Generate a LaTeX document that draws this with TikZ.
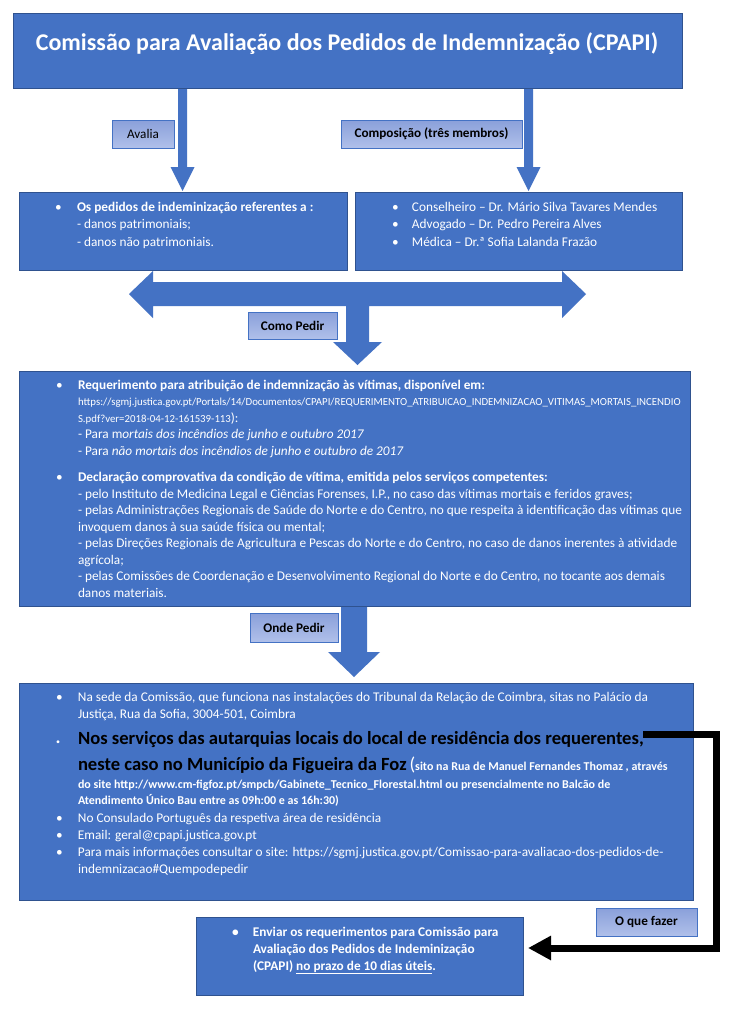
\documentclass[tikz,border=0pt]{standalone}
\usepackage{fontspec}
\setmainfont{Carlito}
\usetikzlibrary{arrows.meta,positioning,calc}
\definecolor{boxblue}{RGB}{68,114,196}
\definecolor{boxedge}{RGB}{47,82,143}
\definecolor{tagtop}{RGB}{138,160,218}
\definecolor{tagbottom}{RGB}{176,192,234}
\newcommand{\titlesize}{\fontsize{24}{28}\selectfont}
\newcommand{\tagsize}{\fontsize{13.2}{15}\selectfont}
\newcommand{\bodysize}{\fontsize{13.3}{16.5}\selectfont}
\newcommand{\urlsize}{\fontsize{10.8}{16.5}\selectfont}
\newcommand{\bigsize}{\fontsize{18.6}{17}\selectfont}
\newcommand{\smallsize}{\fontsize{12}{17}\selectfont}
\newcommand{\bul}{\textbullet}

\begin{document}
\begin{tikzpicture}[x=1pt,y=-1pt,
    every node/.style={inner sep=0pt,outer sep=0pt},
    bluebox/.style={draw=boxedge,fill=boxblue,line width=0.8pt,anchor=north west},
    tagbox/.style={draw=boxblue,line width=0.8pt,top color=tagtop,bottom color=tagbottom,
      anchor=north west,font=\tagsize\bfseries,text=black},
    itemtext/.style={anchor=base west,text=white},
    sendline/.style={line width=7pt,line join=miter,-{Triangle[length=23pt,width=23pt]}}]
  \fill[white] (0,0) rectangle (733,1009);
  \useasboundingbox (0,0) rectangle (733,1009);

  % --- Block arrows ---
  \foreach \ax in {182.5,528.5}
    \fill[boxblue] (\ax-4.5,88) -- (\ax+4.5,88) -- (\ax+4.5,167) -- (\ax+12,167)
      -- (\ax,191) -- (\ax-12,167) -- (\ax-4.5,167) -- cycle;
  \fill[boxblue] (129,294) -- (153,271) -- (153,282) -- (562,282) -- (562,271)
    -- (586,294) -- (562,318) -- (562,306) -- (369,306) -- (369,342) -- (382,342)
    -- (357.5,365) -- (333,342) -- (346,342) -- (346,306) -- (153,306) -- (153,318) -- cycle;
  \fill[boxblue] (341,600) -- (367,600) -- (367,652) -- (380,652) -- (354,677)
    -- (328,652) -- (341,652) -- cycle;

  % --- Boxes ---
  \node[bluebox,minimum width=669pt,minimum height=75pt] (cpapi) at (13,13) {};
  \node[font=\titlesize\bfseries,text=white] (cpapititle) at (347,44)
    {Comissão para Avaliação dos Pedidos de Indemnização (CPAPI)};
  \node[bluebox,minimum width=328pt,minimum height=78pt] (avaliabox) at (19,192) {};
  \node[bluebox,minimum width=327pt,minimum height=78pt] (membros) at (355,192) {};
  \node[bluebox,minimum width=671pt,minimum height=235pt] (requer) at (19,371) {};
  \node[bluebox,minimum width=674pt,minimum height=217pt] (onde) at (19,683) {};
  \node[bluebox,minimum width=327pt,minimum height=78pt] (send) at (196,917) {};

  % --- Labels ---
  \node[tagbox,minimum width=62pt,minimum height=28pt,font=\tagsize] (avalia) at (112,120) {Avalia};
  \node[tagbox,minimum width=181pt,minimum height=28pt] (composicao) at (341,120) {Composição (três membros)};
  \node[tagbox,minimum width=89pt,minimum height=27pt] (comopedir) at (248,312) {Como Pedir};
  \node[tagbox,minimum width=88pt,minimum height=29pt] (ondepedir) at (250,613) {Onde Pedir};
  \node[tagbox,minimum width=101pt,minimum height=28pt] (quefazer) at (596,908) {O que fazer};

  % --- Texts ---
  \node[itemtext,font=\fontsize{13.3}{17.5}\selectfont] (avaliatext) at (55,211) {%
    \begin{tabular}[t]{@{}p{22pt}@{}l@{}}
      \bul & \textbf{Os pedidos de indeminização referentes a :}\\
           & - danos patrimoniais;\\
           & - danos não patrimoniais.
    \end{tabular}};
  \node[itemtext,font=\fontsize{13.3}{17.5}\selectfont] (membrostext) at (392,211) {%
    \begin{tabular}[t]{@{}p{20pt}@{}l@{}}
      \bul & Conselheiro – Dr. Mário Silva Tavares Mendes\\
      \bul & Advogado – Dr. Pedro Pereira Alves\\
      \bul & Médica – Dr.ª Sofia Lalanda Frazão
    \end{tabular}};
  \node[itemtext,font=\bodysize] (requertext) at (56,389) {%
    \begin{tabular}[t]{@{}p{22pt}@{}l@{}}
      \bul & \textbf{Requerimento para atribuição de indemnização às vítimas, disponível em:}\\
           & {\urlsize https://sgmj.justica.gov.pt/Portals/14/Documentos/CPAPI/REQUERIMENTO\_ATRIBUICAO\_INDEMNIZACAO\_VITIMAS\_MORTAIS\_INCENDIO}\\
           & {\urlsize S.pdf?ver=2018-04-12-161539-113}):\\
           & - Para m\textit{ortais dos incêndios de junho e outubro 2017}\\
           & - Para \textit{não mortais dos incêndios de junho e outubro de 2017}\\[10pt]
      \bul & \textbf{Declaração comprovativa da condição de vítima, emitida pelos serviços competentes:}\\
           & - pelo Instituto de Medicina Legal e Ciências Forenses, I.P., no caso das vítimas mortais e feridos graves;\\
           & - pelas Administrações Regionais de Saúde do Norte e do Centro, no que respeita à identificação das vítimas que\\
           & invoquem danos à sua saúde física ou mental;\\
           & - pelas Direções Regionais de Agricultura e Pescas do Norte e do Centro, no caso de danos inerentes à atividade\\
           & agrícola;\\
           & - pelas Comissões de Coordenação e Desenvolvimento Regional do Norte e do Centro, no tocante aos demais\\
           & danos materiais.
    \end{tabular}};
  \node[itemtext,font=\fontsize{13.3}{17}\selectfont] (ondetext) at (56,701) {%
    \begin{tabular}[t]{@{}p{22pt}@{}l@{}}
      \bul & Na sede da Comissão, que funciona nas instalações do Tribunal da Relação de Coimbra, sitas no Palácio da\\
           & Justiça, Rua da Sofia, 3004-501, Coimbra\\[8pt]
      {\footnotesize\bul} & {\bigsize\bfseries\color{black}Nos serviços das autarquias locais do local de residência dos requerentes,}\\[8pt]
           & {\bigsize\bfseries\color{black}neste caso no Município da Figueira da Foz} {\bigsize(}{\smallsize\bfseries sito na Rua de Manuel Fernandes Thomaz , através}\\[1pt]
           & {\smallsize\bfseries do site http://www.cm-figfoz.pt/smpcb/Gabinete\_Tecnico\_Florestal.html ou presencialmente no Balcão de}\\[-1pt]
           & {\smallsize\bfseries Atendimento Único Bau entre as 09h:00 e as 16h:30)}\\[1pt]
      \bul & No Consulado Português da respetiva área de residência\\
      \bul & Email: geral@cpapi.justica.gov.pt\\
      \bul & Para mais informações consultar o site: https://sgmj.justica.gov.pt/Comissao-para-avaliacao-dos-pedidos-de-\\
           & indemnizacao\#Quempodepedir
    \end{tabular}};
  \node[itemtext,font=\fontsize{13.3}{17}\selectfont\bfseries] (sendtext) at (232,936) {%
    \begin{tabular}[t]{@{}p{21pt}@{}l@{}}
      \bul & Enviar os requerimentos para Comissão para\\
           & Avaliação dos Pedidos de Indeminização\\
           & (CPAPI) \underline{no prazo de 10 dias úteis}.
    \end{tabular}};

  % Connector
  \coordinate (reqend) at (643,734.5);
  \draw[sendline] (reqend) -- ++(73.5,0) |- ([xshift=5pt,yshift=8pt]send.east);
\end{tikzpicture}
\end{document}
